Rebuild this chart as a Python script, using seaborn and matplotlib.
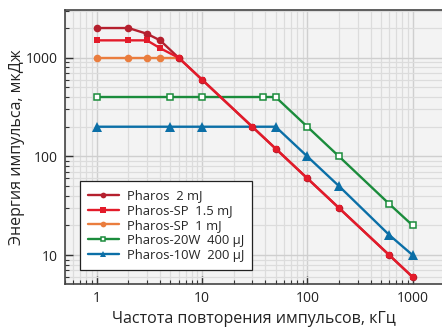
import matplotlib
matplotlib.use("Agg")
import matplotlib.pyplot as plt
import seaborn as sns
import numpy as np
import pandas as pd
from matplotlib.ticker import LogLocator, NullFormatter, FixedLocator, FixedFormatter

sns.set_theme(style="white")
plt.rcParams['font.family'] = ['Open Sans', 'DejaVu Sans']

# data
p2_x = [1, 2, 3, 4, 6, 10, 30, 50, 100, 200, 600, 1000]
p2_y = [2000, 2000, 1750, 1500, 1000, 600, 200, 120, 60, 30, 10, 6]
sp15_x = [1, 2, 3, 4, 6, 10, 30, 50, 100, 200, 600, 1000]
sp15_y = [1500, 1500, 1500, 1250, 1000, 600, 200, 120, 60, 30, 10, 6]
sp1_x = [1, 2, 3, 4, 6]
sp1_y = [1000, 1000, 1000, 1000, 1000]
w20_x = [1, 5, 10, 38, 50, 100, 200, 600, 1000]
w20_y = [400, 400, 400, 400, 400, 200, 100, 33, 20]
w10_x = [1, 5, 10, 50, 100, 200, 600, 1000]
w10_y = [200, 200, 200, 200, 100, 50, 16, 10]

labels = ["Pharos  2 mJ", "Pharos-SP  1.5 mJ", "Pharos-SP  1 mJ",
          "Pharos-20W  400 µJ", "Pharos-10W  200 µJ"]
colors = ["#b5202e", "#e31b2a", "#ea7d3e", "#1b8c3c", "#0b6fa7"]

fig = plt.figure(figsize=(4.42, 3.31), dpi=100)
ax = fig.add_axes([0.147, 0.142, 0.853, 0.828])
ax.set_facecolor("#f3f3f3")

series = [(p2_x, p2_y, 'o', None, 3, 5.5), (sp15_x, sp15_y, 's', None, 4, 5.0),
          (sp1_x, sp1_y, 'o', None, 2, 5.5), (w20_x, w20_y, 's', 'white', 2, 4.4),
          (w10_x, w10_y, '^', None, 2, 6.5)]
for (xs, ys, m, fc, z, ms), lab, c in zip(series, labels, colors):
    df = pd.DataFrame({"x": xs, "y": ys})
    sns.lineplot(data=df, x="x", y="y", ax=ax, color=c, marker=m,
                 markersize=ms, linewidth=1.7,
                 markerfacecolor=fc if fc else c,
                 markeredgecolor=c, markeredgewidth=1.1 if fc else 0,
                 label=lab, zorder=z)

ax.set_xscale("log")
ax.set_yscale("log")
ax.set_xlim(0.5, 1900)
ax.set_ylim(5.1, 3050)

ax.xaxis.set_major_locator(FixedLocator([1, 10, 100, 1000]))
ax.xaxis.set_major_formatter(FixedFormatter(["1", "10", "100", "1000"]))
ax.yaxis.set_major_locator(FixedLocator([10, 100, 1000]))
ax.yaxis.set_major_formatter(FixedFormatter(["10", "100", "1000"]))
ax.xaxis.set_minor_locator(LogLocator(base=10, subs=np.arange(2, 10)))
ax.yaxis.set_minor_locator(LogLocator(base=10, subs=np.arange(2, 10)))
ax.xaxis.set_minor_formatter(NullFormatter())
ax.yaxis.set_minor_formatter(NullFormatter())

ax.grid(True, which="major", color="#cfcfcf", linewidth=1.0)
ax.grid(True, which="minor", color="#dcdcdc", linewidth=0.9)
ax.set_axisbelow(True)

ax.tick_params(axis="both", which="major", direction="in", length=6, width=1,
               color="#333333", labelsize=10, labelcolor="#222222", pad=5,
               bottom=True, left=True)
ax.tick_params(axis="both", which="minor", direction="in", length=3, width=0.8,
               color="#333333", bottom=True, left=True)

for s in ["left", "bottom", "top"]:
    ax.spines[s].set_color("#444444")
    ax.spines[s].set_linewidth(1.2)
ax.spines["right"].set_visible(False)

ax.set_xlabel("Частота повторения импульсов, кГц", fontsize=11.5, color="#222222", labelpad=4)
ax.set_ylabel("Энергия импульса, мкДж", fontsize=11.5, color="#222222", labelpad=1)

leg = ax.legend(loc="lower left", bbox_to_anchor=(0.022, 0.028), fontsize=9.4,
                frameon=True, fancybox=False, edgecolor="#222222",
                framealpha=1, handlelength=2.4, labelspacing=0.15,
                borderpad=0.6, handletextpad=0.6, markerscale=0.75)
leg.get_frame().set_linewidth(0.9)

fig.savefig("out.png", dpi=100)
